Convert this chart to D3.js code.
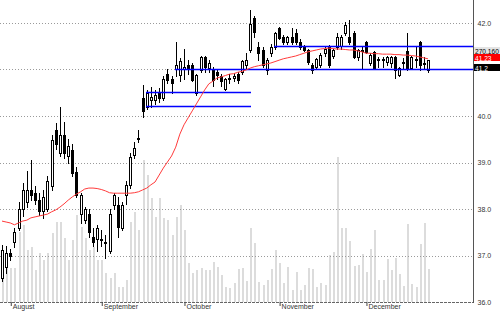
<!DOCTYPE html>
<html>
<head>
<meta charset="utf-8">
<script src="https://d3js.org/d3.v7.min.js"></script>
<style>
  body { margin: 0; background: #fff; }
  svg { display: block; font-family: "Liberation Sans", Arial, sans-serif; }
</style>
</head>
<body>
<div id="chart"></div>
<script>

// daily candles, late July .. mid December (one entry per trading day)
var opens = [36.52,36.75,37.05,37.29,37.6,38.0,38.15,38.4,38.35,38.2,
  37.95,38.0,38.5,39.7,39.2,39.6,39.15,39.27,38.8,37.9,
  37.76,37.9,37.4,37.35,37.35,37.3,37.1,38.09,38.09,37.6,
  38.3,38.52,39.16,39.5,40.39,40.2,40.35,40.35,40.5,40.39,
  40.9,40.8,41.0,40.88,41.0,41.1,41.1,40.49,40.99,41.27,
  41.03,40.99,40.95,40.86,40.58,40.8,40.82,40.9,40.95,41.1,
  41.42,42.1,41.48,41.42,40.99,41.35,41.48,41.89,41.7,41.59,
  41.7,41.78,41.59,41.48,41.42,41.1,41.05,41.1,41.35,41.48,
  41.29,41.48,41.5,41.78,41.7,41.78,41.27,41.4,41.59,41.14,
  41.38,41.2,41.2,41.16,41.14,41.27,40.88,41.15,41.4,41.03,
  41.2,41.59,41.15,40.99];

var highs = [37.23,37.2,37.15,37.6,38.15,38.55,38.82,39.05,38.5,38.35,
  38.4,38.7,39.6,39.85,40.2,39.87,39.5,39.4,38.9,38.35,
  38.05,38.0,37.6,37.65,37.55,37.45,38.0,38.35,38.26,38.15,
  38.6,39.2,39.45,39.7,40.67,40.55,40.62,40.55,40.6,40.85,
  41.0,40.85,41.6,41.25,41.45,41.2,41.15,40.9,41.3,41.3,
  41.2,41.05,41.0,40.9,40.82,40.9,40.92,40.95,41.2,41.35,
  42.28,42.15,41.6,41.48,41.25,41.55,41.8,41.92,41.75,41.72,
  41.89,41.87,41.65,41.52,41.45,41.14,41.25,41.35,41.48,41.52,
  41.45,41.78,41.75,42.03,42.06,41.82,41.45,41.5,41.62,41.35,
  41.4,41.27,41.27,41.3,41.3,41.3,41.05,41.25,41.78,41.3,
  41.48,41.62,41.27,41.2];

var lows = [36.45,36.62,36.9,37.18,37.55,37.85,38.05,38.2,38.1,37.87,
  37.8,37.95,38.4,39.3,39.15,39.1,39.0,38.7,38.25,37.7,
  37.7,37.4,37.2,37.1,37.2,36.95,37.05,38.0,37.4,37.55,
  38.1,38.45,39.1,39.45,39.98,40.15,40.2,40.25,40.3,40.35,
  40.7,40.5,40.85,40.75,40.8,40.9,40.75,40.45,40.95,40.95,
  40.95,40.65,40.8,40.65,40.55,40.7,40.75,40.72,40.9,41.0,
  41.38,41.7,41.2,41.05,40.9,41.3,41.45,41.65,41.55,41.55,
  41.55,41.55,41.45,41.4,41.12,40.92,41.0,41.05,41.3,41.05,
  41.25,41.45,41.45,41.75,41.55,41.25,41.2,41.03,41.35,41.1,
  41.0,41.05,41.05,41.1,41.05,40.82,40.85,41.0,40.98,41.0,
  41.05,40.99,41.0,40.95];

var closes = [37.12,37.05,37.0,37.5,38.0,38.4,38.4,38.3,38.2,37.95,
  38.25,38.6,39.48,39.4,39.6,39.2,39.35,38.77,38.3,38.3,
  38.0,37.5,37.3,37.6,37.33,37.3,37.9,38.3,37.61,38.09,
  38.52,39.12,39.31,39.53,40.11,40.49,40.4,40.45,40.38,40.8,
  40.77,40.72,41.1,41.18,41.05,41.0,40.77,40.88,41.27,41.05,
  41.15,40.77,40.88,40.75,40.8,40.82,40.86,40.77,41.18,41.2,
  41.98,41.8,41.35,41.1,41.2,41.48,41.78,41.68,41.59,41.7,
  41.6,41.59,41.48,41.42,41.16,40.99,41.22,41.31,41.45,41.1,
  41.42,41.7,41.7,41.96,41.59,41.27,41.42,41.42,41.38,41.31,
  41.03,41.22,41.22,41.27,41.27,40.99,41.03,41.17,41.03,41.27,
  41.22,41.1,41.12,41.2];

// volume, thousands
var volumes = [79,122,112,112,230,253,171,181,105,161,
  138,161,227,263,263,211,138,204,286,247,
  211,171,181,138,138,95,79,95,49,49,
  72,263,296,237,467,418,342,280,342,276,
  270,220,280,319,237,128,95,105,112,105,
  105,132,115,89,49,46,63,109,112,69,
  243,194,66,56,72,109,171,128,63,115,
  39,99,39,56,112,109,49,63,56,155,
  165,477,243,243,201,118,122,158,99,174,
  237,72,72,141,105,145,92,53,257,59,
  49,191,260,109];

// moving average as drawn (red line)
var movingAvg = [37.74,37.72,37.70,37.66,37.70,37.74,37.76,37.81,37.83,37.85,
  37.87,37.89,37.94,37.98,38.04,38.11,38.19,38.26,38.32,38.37,
  38.43,38.45,38.45,38.44,38.42,38.39,38.35,38.34,38.34,38.34,
  38.34,38.34,38.35,38.37,38.41,38.45,38.52,38.58,38.73,38.88,
  39.01,39.14,39.33,39.61,39.81,39.96,40.11,40.26,40.41,40.56,
  40.69,40.75,40.82,40.84,40.87,40.90,40.91,40.94,40.96,40.99,
  41.03,41.06,41.08,41.10,41.12,41.14,41.17,41.20,41.23,41.25,
  41.27,41.29,41.32,41.35,41.38,41.40,41.42,41.44,41.45,41.46,
  41.45,41.44,41.44,41.43,41.42,41.42,41.40,41.38,41.35,41.35,
  41.34,41.34,41.33,41.33,41.33,41.32,41.32,41.31,41.31,41.30,
  41.29,41.27,41.25,41.23];

// blue support / resistance lines (start and end in trading days, -1 = right edge)
var levelValues = [41.5, 41.01, 40.51, 40.215];
var levelStarts = [66, 42, 35, 35];
var levelEnds = [-1, -1, 60, 60];

var monthLabels = ["August", "September", "October", "November", "December"];
var monthDays = [2, 24, 44, 67, 88];

var priceTicks = [36, 37, 38, 39, 40, 42];
var gridValues = [37, 38, 39, 40, 41, 42];

var tagTexts = ["270,160", "41.23", "41.2"];


var plotRight = 473, plotBottom = 302;

var svg = d3.select("#chart")
  .append("svg")
  .attr("width", 500)
  .attr("height", 312);

svg.append("rect").attr("width", 500).attr("height", 312).attr("fill", "#fff");

var x = d3.scaleLinear().domain([0, opens.length - 1]).range([2, 428]);
var y = d3.scaleLinear().domain([36, 42]).range([plotBottom, 23]);
var yVol = d3.scaleLinear().domain([0, 500]).range([plotBottom, 150]);

function px(i) { return Math.round(x(i)); }
function py(v) { return Math.round(y(v)); }

// volume bars
svg.append("g")
  .selectAll("rect")
  .data(volumes).enter()
  .append("rect")
  .attr("x", function (d, i) { return px(i); })
  .attr("y", function (d) { return Math.round(yVol(d)); })
  .attr("width", 2)
  .attr("height", function (d) { return plotBottom - Math.round(yVol(d)); })
  .attr("fill", "#dcdcdc");

// dotted grid
svg.append("g")
  .selectAll("line")
  .data(gridValues).enter()
  .append("line")
  .attr("x1", 0).attr("x2", plotRight)
  .attr("y1", function (d) { return py(d) + 0.5; })
  .attr("y2", function (d) { return py(d) + 0.5; })
  .attr("stroke", "#9a9a9a")
  .attr("stroke-dasharray", "1,2");

// candles
var idx = d3.range(opens.length);
var candle = svg.append("g").selectAll("g").data(idx).enter().append("g");

candle.append("line")
  .attr("x1", function (i) { return px(i) + 0.5; })
  .attr("x2", function (i) { return px(i) + 0.5; })
  .attr("y1", function (i) { return py(highs[i]); })
  .attr("y2", function (i) { return py(lows[i]) + 1; })
  .attr("stroke", "#000");

candle.append("rect")
  .attr("x", function (i) { return px(i) - 0.5; })
  .attr("y", function (i) { return py(Math.max(opens[i], closes[i])) + 0.5; })
  .attr("width", 2)
  .attr("height", function (i) {
    return Math.max(1, py(Math.min(opens[i], closes[i])) - py(Math.max(opens[i], closes[i])));
  })
  .attr("fill", function (i) { return closes[i] >= opens[i] ? "#fff" : "#000"; })
  .attr("stroke", "#000");

// blue levels
svg.append("g")
  .selectAll("line")
  .data(levelValues).enter()
  .append("line")
  .attr("x1", function (d, i) { return px(levelStarts[i]) - 1; })
  .attr("x2", function (d, i) { return levelEnds[i] < 0 ? plotRight : px(levelEnds[i]) + 1; })
  .attr("y1", function (d) { return py(d) + 0.5; })
  .attr("y2", function (d) { return py(d) + 0.5; })
  .attr("stroke", "#0000ff")
  .attr("stroke-width", 1.5);

// moving average
var line = d3.line()
  .x(function (d, i) { return x(i); })
  .y(function (d) { return y(d); });

svg.append("path")
  .datum(movingAvg)
  .attr("d", line)
  .attr("fill", "none")
  .attr("stroke", "#ff3b3b")
  .attr("stroke-width", 1);

// right price axis
svg.append("line")
  .attr("x1", plotRight + 0.5).attr("x2", plotRight + 0.5)
  .attr("y1", 0).attr("y2", plotBottom + 1)
  .attr("stroke", "#555");

var yAxis = d3.axisRight(y)
  .tickValues(priceTicks)
  .tickFormat(d3.format(".1f"))
  .tickSize(0)
  .tickPadding(4);

var yg = svg.append("g")
  .attr("transform", "translate(" + (plotRight + 0.5) + ",0)")
  .call(yAxis);
yg.select(".domain").remove();
yg.selectAll("text").attr("font-size", 7).attr("fill", "#333").attr("font-family", "Liberation Sans, Arial, sans-serif");

// bottom month axis
svg.append("line")
  .attr("x1", 0).attr("x2", plotRight)
  .attr("y1", plotBottom + 0.5).attr("y2", plotBottom + 0.5)
  .attr("stroke", "#666")
  .attr("stroke-dasharray", "3,1");

var xAxis = d3.axisBottom(x)
  .tickValues(monthDays)
  .tickFormat(function (d, i) { return monthLabels[i]; })
  .tickSize(4);

var xg = svg.append("g")
  .attr("transform", "translate(0," + plotBottom + ")")
  .call(xAxis);
xg.select(".domain").remove();
xg.selectAll(".tick line").attr("stroke", "#444").attr("transform", "translate(0.5,0)");
xg.selectAll("text")
  .attr("text-anchor", "start")
  .attr("x", 2)
  .attr("y", 2)
  .attr("font-size", 7)
  .attr("fill", "#333")
  .attr("font-family", "Liberation Sans, Arial, sans-serif");

// value tags on the axis
var tagCenters = [py(levelValues[0]) + 4, y(movingAvg[movingAvg.length - 1]) - 1, py(levelValues[1]) - 2];
var tagFills = ["#e4e4e4", "#ff0000", "#000"];
var tagColors = ["#000", "#fff", "#fff"];

var tags = svg.append("g").selectAll("g").data(tagTexts).enter().append("g");
tags.append("rect")
  .attr("x", plotRight + 1)
  .attr("y", function (d, i) { return Math.round(tagCenters[i] - 3.5); })
  .attr("width", 500 - plotRight - 1)
  .attr("height", 7)
  .attr("fill", function (d, i) { return tagFills[i]; });
tags.append("text")
  .attr("x", plotRight + 2)
  .attr("y", function (d, i) { return Math.round(tagCenters[i] - 3.5) + 6.5; })
  .attr("font-size", 6.6)
  .attr("fill", function (d, i) { return tagColors[i]; })
  .text(function (d) { return d; });

</script>
</body>
</html>
